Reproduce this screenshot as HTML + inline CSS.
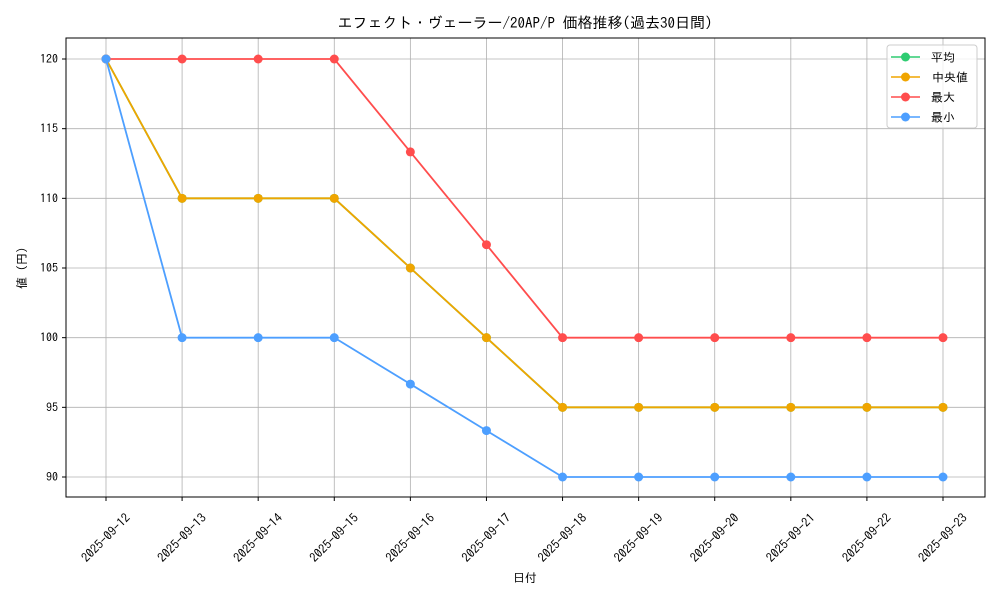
<!DOCTYPE html>
<html><head><meta charset="utf-8">
<style>
body{margin:0;background:#fff;}
svg text{font-family:"IPAGothic","Liberation Sans","Noto Sans CJK JP",sans-serif;fill:#000;}
</style></head>
<body>
<svg id="chart" width="1000" height="600" xmlns="http://www.w3.org/2000/svg">
<text x="525" y="28" font-size="15" text-anchor="middle">エフェクト・ヴェーラー/20AP/P 価格推移(過去30日間)</text>
<g id="grid"></g>
<rect x="66" y="38" width="919" height="459" fill="none" stroke="#000" stroke-width="1"/>
<g id="axes"></g>
<g id="series"></g>
<text x="525" y="582" font-size="12" text-anchor="middle">日付</text>
<text transform="translate(26,268) rotate(-90)" font-size="12" text-anchor="middle">値 (円)</text>
<g>
<rect x="887" y="45" width="90" height="83" rx="3" fill="#fff" fill-opacity="0.8" stroke="#ccc"/>
<g id="legend"></g>
</g>
</svg>
<script>
const dates=["2025-09-12","2025-09-13","2025-09-14","2025-09-15","2025-09-16","2025-09-17","2025-09-18","2025-09-19","2025-09-20","2025-09-21","2025-09-22","2025-09-23"];
const meanVals=[120,110,110,110,105,100,95,95,95,95,95,95];
const medianVals=[120,110,110,110,105,100,95,95,95,95,95,95];
const maxVals=[120,120,120,120,113.33,106.67,100,100,100,100,100,100];
const minVals=[120,100,100,100,96.67,93.33,90,90,90,90,90,90];
const yTicks=[90,95,100,105,110,115,120];
const seriesNames=["平均","中央値","最大","最小"];
const NS="http://www.w3.org/2000/svg";
function xs(i){return 106+i*(943-106)/(dates.length-1);}
function ys(v){return 477-(v-90)*(477-59)/30;}
function mk(tag,attrs,parent){const e=document.createElementNS(NS,tag);for(const k in attrs)e.setAttribute(k,attrs[k]);parent.appendChild(e);return e;}
const grid=document.getElementById('grid'),axes=document.getElementById('axes'),ser=document.getElementById('series'),leg=document.getElementById('legend');
dates.forEach((d,i)=>{
 const x=xs(i);
 const g=mk('line',{x1:x,x2:x,y1:38,y2:497,stroke:'#b0b0b0','stroke-width':0.8},grid);
 
 
 const t=mk('line',{x1:x,x2:x,y1:497,y2:501,stroke:'#000'},axes);
 
 
 const l=mk('text',{transform:`translate(${x},${538}) rotate(-45)`,'font-size':12.5,'text-anchor':'middle',y:4},axes);
 l.textContent=d;
 
 
});
yTicks.forEach(v=>{
 const y=ys(v);
 const g=mk('line',{x1:66,x2:985,y1:y,y2:y,stroke:'#b0b0b0','stroke-width':0.8},grid);
 
 
 const t=mk('line',{x1:62,x2:66,y1:y,y2:y,stroke:'#000'},axes);
 
 
 const l=mk('text',{x:58,y:y+4,'font-size':12,'text-anchor':'end'},axes);
 l.textContent=v;
 
 
});
const series=[[meanVals,'#2ecc71','mean'],[medianVals,'#f0a500','median'],[maxVals,'#ff4d4d','max'],[minVals,'#4d9fff','min']];
series.forEach(([vals,c,n])=>{
 const g=mk('g',{},ser);
 
 
 const pl=mk('polyline',{points:vals.map((v,i)=>xs(i)+','+ys(v)).join(' '),fill:'none',stroke:c,'stroke-width':1.8},g);
 
 
 vals.forEach((v,i)=>{
  const p=mk('circle',{cx:xs(i),cy:ys(v),r:4.5,fill:c},g);
  
  
 });
});
series.forEach(([vals,c,n],k)=>{
 const y=57+k*20;
 const g=mk('g',{},leg);
 
 
 mk('line',{x1:891,x2:920,y1:y,y2:y,stroke:c,'stroke-width':1.6},g);
 mk('circle',{cx:905.5,cy:y,r:4.5,fill:c},g);
 const t=mk('text',{x:k==1?932:931,y:y+4.5,'font-size':12},g);
 t.textContent=(k==1?' ':'')+seriesNames[k];
});
</script>
</body></html>
